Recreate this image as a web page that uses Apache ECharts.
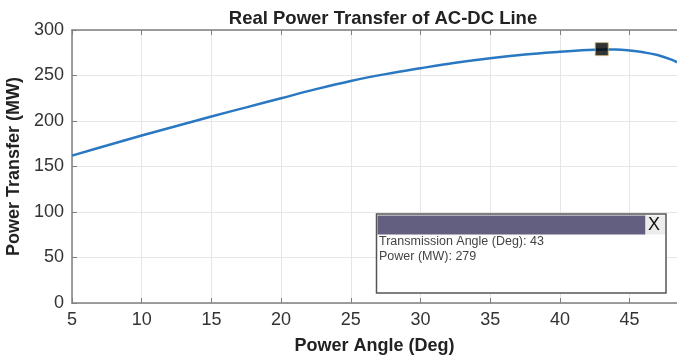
<!DOCTYPE html>
<html>
<head>
<meta charset="utf-8">
<script src="https://cdn.jsdelivr.net/npm/echarts@6/dist/echarts.min.js"></script>
<style>
  html, body { margin: 0; padding: 0; background: #fff; }
  #chart { width: 677px; height: 358px; }
</style>
</head>
<body>
<div id="chart"></div>
<script>
// 数据
var angles = [5, 7.5, 10, 12.5, 15, 17.5, 20, 22.5, 25, 27.5, 30, 32.5, 35, 37.5, 40, 42, 43, 44, 45, 46, 47, 48, 48.4];
var power  = [162, 173, 184, 194.5, 205, 215, 225, 235, 244, 251.5, 258, 264, 269, 273, 276, 278, 278.5, 278.5, 277.5, 275.5, 272.5, 267.5, 264.5];
var tipPoint = [43, 279];
var xTicks = [5, 10, 15, 20, 25, 30, 35, 40, 45];
var yTicks = [0, 50, 100, 150, 200, 250, 300];

var chart = echarts.init(document.getElementById('chart'));
var font = 'Liberation Sans, Arial, sans-serif';

var lineData = angles.map(function (a, i) { return [a, power[i]]; });

var axisGray = '#808080';

var option = {
    animation: false,
    title: {
        text: 'Real Power Transfer of AC-DC Line',
        left: 378, top: 4, textAlign: 'center',
        textStyle: { fontFamily: font, fontSize: 18.5, fontWeight: 'bold', color: '#222' }
    },
    grid: { left: 72, right: 0, top: 30, bottom: 55, outerBoundsMode: 'none', containLabel: false },
    xAxis: [{
        type: 'value', min: 5, max: 48.4, interval: 5,
        name: 'Power Angle (Deg)', nameLocation: 'middle', nameGap: 34,
        nameTextStyle: { fontFamily: font, fontSize: 18, fontWeight: 'bold', color: '#222' },
        axisLine: { lineStyle: { color: axisGray, width: 1.5 } },
        axisTick: { inside: true, length: 5, lineStyle: { color: axisGray } },
        axisLabel: {
            fontFamily: font, fontSize: 18, color: '#333', margin: 8,
            formatter: function (v) { return xTicks.indexOf(v) >= 0 ? String(v) : ''; }
        },
        splitLine: { show: true, lineStyle: { color: '#e6e6e6' } }
    }, {
        type: 'value', min: 5, max: 48.4, interval: 5, position: 'top',
        axisLine: { show: true, lineStyle: { color: axisGray, width: 1.5 } },
        axisTick: { inside: true, length: 5, lineStyle: { color: axisGray } },
        axisLabel: { show: false },
        splitLine: { show: false }
    }],
    yAxis: {
        type: 'value', min: 0, max: 300, interval: 50,
        name: 'Power Transfer (MW)', nameLocation: 'middle', nameGap: 47,
        nameTextStyle: { fontFamily: font, fontSize: 18, fontWeight: 'bold', color: '#222' },
        axisLine: { show: true, lineStyle: { color: axisGray, width: 1.5 } },
        axisTick: { show: true, inside: true, length: 5, lineStyle: { color: axisGray } },
        axisLabel: {
            fontFamily: font, fontSize: 18, color: '#333', margin: 8,
            formatter: function (v) { return yTicks.indexOf(v) >= 0 ? String(v) : ''; }
        },
        splitLine: { show: true, lineStyle: { color: '#e6e6e6' } }
    },
    series: [{
        type: 'line',
        data: lineData,
        smooth: 0.4,
        showSymbol: false,
        lineStyle: { color: '#2a78c2', width: 2.5 },
        clip: true
    }, {
        type: 'scatter',
        data: [tipPoint],
        symbol: 'rect',
        symbolSize: 13,
        itemStyle: { color: '#000', borderColor: '#c9b87a', borderWidth: 1 },
        z: 5
    }],
    graphic: [
        // 数据提示框
        { type: 'rect', shape: { x: 376.5, y: 214, width: 289.5, height: 79 },
          style: { fill: '#fff', stroke: '#555', lineWidth: 1.5 }, z: 10 },
        { type: 'rect', shape: { x: 377.5, y: 215.5, width: 268, height: 19 },
          style: { fill: '#625f80' }, z: 11 },
        { type: 'rect', shape: { x: 645.5, y: 215.5, width: 19.5, height: 19 },
          style: { fill: '#ececec' }, z: 11 },
        { type: 'text', left: 648, top: 216,
          style: { text: 'X', font: '18px ' + font, fill: '#111' }, z: 12 },
        { type: 'text', left: 379, top: 235,
          style: { text: 'Transmission Angle (Deg): ' + tipPoint[0], font: '12.5px ' + font, fill: '#444' }, z: 12 },
        { type: 'text', left: 379, top: 250,
          style: { text: 'Power (MW): ' + tipPoint[1], font: '12.5px ' + font, fill: '#444' }, z: 12 }
    ]
};

chart.setOption(option);
</script>
</body>
</html>
